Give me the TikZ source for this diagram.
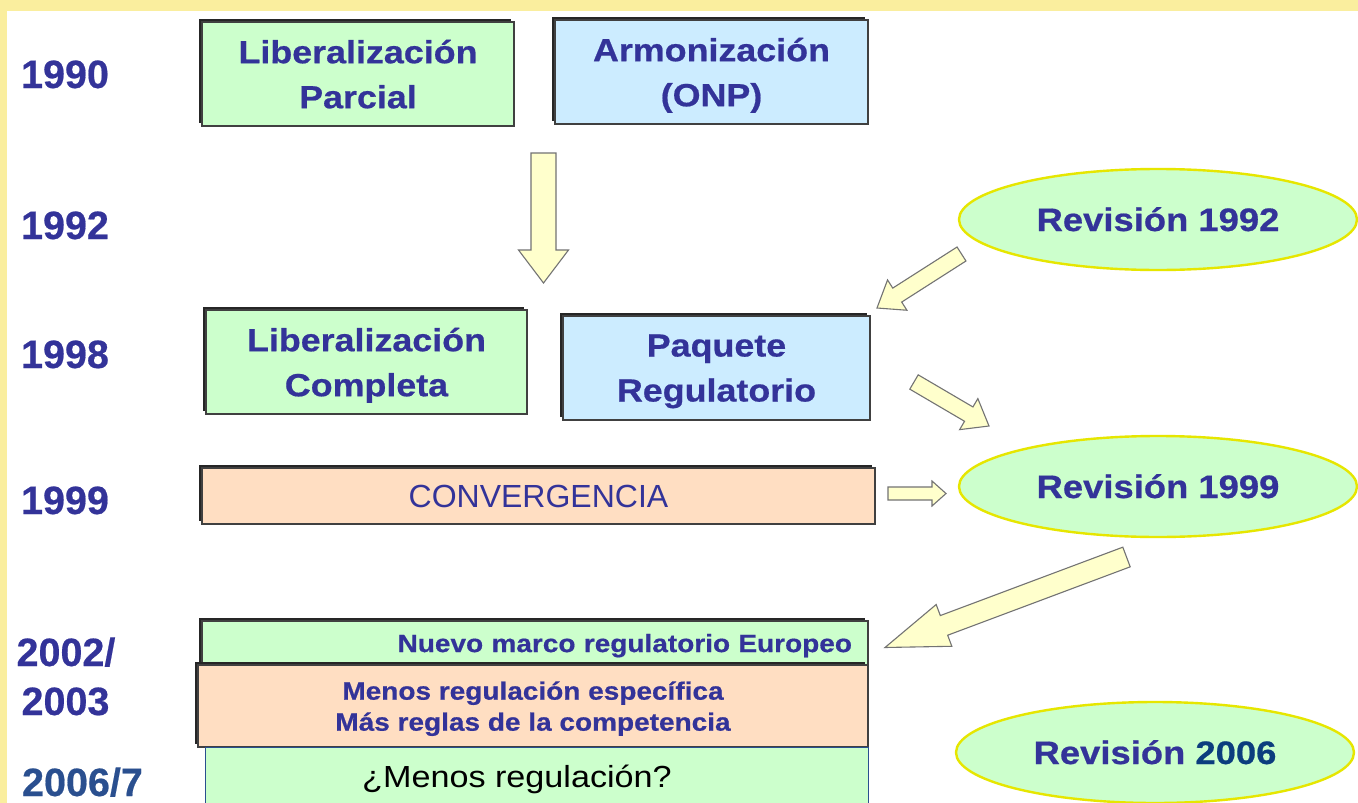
\documentclass[tikz,border=0pt]{standalone}
\usepackage{fontspec}
\setmainfont{Liberation Sans}
\newfontfamily\widesans[FakeStretch=1.12,BoldFeatures={FakeBold=0.6}]{Liberation Sans}
\newfontfamily\yearsans[BoldFeatures={FakeBold=0.5}]{Liberation Sans}
\usetikzlibrary{shapes.geometric,shadows,calc}
\definecolor{bgyellow}{HTML}{FAEE9E}
\definecolor{boxgreen}{HTML}{CCFFCC}
\definecolor{boxblue}{HTML}{CCECFF}
\definecolor{boxpeach}{HTML}{FFDEC2}
\definecolor{arrowfill}{HTML}{FFFFCC}
\definecolor{txtblue}{HTML}{333399}
\definecolor{navy}{HTML}{0B3D7E}
\definecolor{ellyellow}{HTML}{E6E600}
\definecolor{edgeblue}{HTML}{2A4F8F}
\tikzset{
  box/.style={draw=black!75, line width=1.2pt, inner sep=0pt,
    drop shadow={shadow xshift=-3pt,shadow yshift=3pt,fill=black!85,opacity=1}},
  bigtext/.style={font=\widesans\bfseries\fontsize{32}{45}\selectfont, text=txtblue, align=center, text depth=0pt},
  smalltext/.style={font=\widesans\bfseries\fontsize{25}{31}\selectfont, text=txtblue},
  year/.style={font=\yearsans\bfseries\fontsize{39.5}{45}\selectfont, text=txtblue, anchor=base},
  revision/.style={ellipse, draw=ellyellow, line width=2.4pt, fill=boxgreen,
    minimum width=398pt, minimum height=101pt, inner sep=0pt,
    font=\widesans\bfseries\fontsize{32.5}{40}\selectfont, text=txtblue,
    text height=23pt, text depth=0pt},
  blockarrow/.style={draw=black!55, line width=1.1pt, fill=arrowfill, line join=miter}
}
\newcommand\blockarr[5]{%
  \coordinate (ba-c) at ($(#2)!#5!(#1)$);
  \draw[blockarrow] ($(#1)!#3!90:(#2)$) -- ($(ba-c)!#3!-90:(#1)$) -- ($(ba-c)!#4!-90:(#1)$)
    -- (#2) -- ($(ba-c)!#4!90:(#1)$) -- ($(ba-c)!#3!90:(#1)$) -- ($(#1)!#3!-90:(#2)$) -- cycle;}
\begin{document}
\begin{tikzpicture}[x=1pt,y=-1pt]
\useasboundingbox (0,0) rectangle (1358,803);
\clip (0,0) rectangle (1358,803);
\fill[bgyellow] (0,0) rectangle (1358,803);
\fill[white] (7,11) rectangle (1358,803);

% years
\node[year] (y1990) at (65,88) {1990};
\node[year] (y1992) at (65,239) {1992};
\node[year] (y1998) at (65,368) {1998};
\node[year] (y1999) at (65,514) {1999};
\node[year] (y2002) at (66,666) {2002/};
\node[year] (y2003) at (65.5,715) {2003};
\node[year, text=edgeblue] (y2006) at (82.5,796) {2006/7};

% boxes
\node[box, fill=boxgreen, minimum width=312pt, minimum height=104pt, bigtext] (lp) at (358,74) {Liberalización\\Parcial};
\node[box, fill=boxblue, minimum width=313pt, minimum height=104pt, bigtext] (arm) at (711.5,72) {Armonización\\(ONP)};
\node[box, fill=boxgreen, minimum width=321pt, minimum height=104pt, bigtext] (lc) at (366.5,362) {Liberalización\\Completa};
\node[box, fill=boxblue, minimum width=307pt, minimum height=104pt, bigtext] (paq) at (716.5,368) {Paquete\\Regulatorio};
\node[box, fill=boxpeach, minimum width=673pt, minimum height=56pt,
  font=\fontsize{32}{38}\selectfont, text=txtblue] (conv) at (538.5,496) {CONVERGENCIA};
\node[box, fill=boxgreen, smalltext, text width=634pt, align=right, inner xsep=16pt,
  minimum height=44pt, text depth=0pt] (nuevo) at (535,643) {Nuevo marco regulatorio Europeo};
\node[box, fill=boxpeach, smalltext, align=center, minimum width=670pt, minimum height=82pt, text depth=0pt] (menos) at (533,706)
  {Menos regulación específica\\Más reglas de la competencia};
\node[draw=edgeblue, line width=1.2pt, fill=boxgreen, minimum width=663pt, minimum height=70pt,
  inner sep=0pt, anchor=north west] (mr) at (205,747) {};
\node[font=\widesans\fontsize{30.5}{36}\selectfont, text=black, anchor=base] (mrt) at (517,787) {¿Menos regulación?};

% revisions
\node[revision] (r92) at (1158,219.5) {Revisión 1992};
\node[revision] (r99) at (1158,486.5) {Revisión 1999};
\node[revision] (r06) at (1155,752.5) {Revisión \textcolor{navy}{2006}};

% block arrows
\coordinate (a1s) at (543.5,153); \coordinate (a1e) at (543.5,283);
\coordinate (a2s) at (961.5,254); \coordinate (a2e) at (877,308);
\coordinate (a3s) at (914,382);   \coordinate (a3e) at (989,426);
\coordinate (a4s) at (888,493.5); \coordinate (a4e) at (946,493.5);
\coordinate (a5s) at (1126.5,557); \coordinate (a5e) at (885,647.5);
\blockarr{a1s}{a1e}{12.5pt}{25pt}{33pt}
\blockarr{a2s}{a2e}{8.3pt}{18pt}{24pt}
\blockarr{a3s}{a3e}{8.3pt}{18pt}{23.5pt}
\blockarr{a4s}{a4e}{6.5pt}{12.5pt}{14pt}
\blockarr{a5s}{a5e}{10.5pt}{22.3pt}{63pt}
\end{tikzpicture}
\end{document}
